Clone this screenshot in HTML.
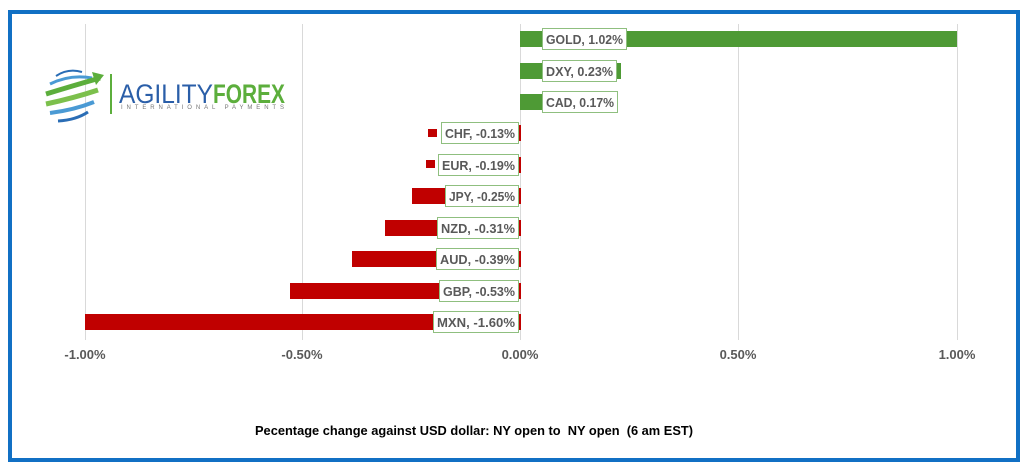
<!DOCTYPE html>
<html><head><meta charset="utf-8"><style>
body{margin:0;background:#fff;width:1024px;height:468px;overflow:hidden}
svg{display:block}
text{font-family:"Liberation Sans",Arial,sans-serif}
</style></head><body>
<svg width="1024" height="468" viewBox="0 0 1024 468">
<rect x="10" y="12" width="1008" height="448" fill="#fff" stroke="#1170c4" stroke-width="4"/>
<g stroke="#d9d9d9" stroke-width="1">
<line x1="85.5" y1="24" x2="85.5" y2="340"/>
<line x1="302.5" y1="24" x2="302.5" y2="340"/>
<line x1="520.5" y1="24" x2="520.5" y2="340"/>
<line x1="738.5" y1="24" x2="738.5" y2="340"/>
<line x1="957.5" y1="24" x2="957.5" y2="340"/>
</g>
<!-- logo -->
<g>
<path d="M56 76 Q68 68 82 72" stroke="#2a6db5" stroke-width="2" fill="none"/>
<path d="M50 84 Q70 74 92 78" stroke="#4a9ad4" stroke-width="3" fill="none"/>
<path d="M46 94 Q72 86 100 78" stroke="#5cae3c" stroke-width="5" fill="none"/>
<path d="M46 104 Q74 98 98 90" stroke="#7cc04c" stroke-width="5" fill="none"/>
<path d="M50 113 Q74 110 94 102" stroke="#4a9ad4" stroke-width="4" fill="none"/>
<path d="M58 121 Q76 120 88 112" stroke="#2a6db5" stroke-width="3" fill="none"/>
<path d="M92 72 L104 75 L96 85 Z" fill="#5cae3c"/>
<line x1="111" y1="74" x2="111" y2="114" stroke="#5cae3c" stroke-width="2"/>
<text x="119" y="103" font-size="27" fill="#2a5ea8" textLength="94" lengthAdjust="spacingAndGlyphs">AGILITY</text>
<text x="213" y="103" font-size="27" font-weight="bold" fill="#5cae3c" textLength="72" lengthAdjust="spacingAndGlyphs">FOREX</text>
<text x="121" y="109" font-size="6" fill="#777" textLength="163" lengthAdjust="spacing">INTERNATIONAL PAYMENTS</text>
</g>
<!-- bars -->
<g fill="#4e9a35">
<rect x="520" y="31" width="437" height="16"/>
<rect x="520" y="63" width="101" height="16"/>
<rect x="520" y="94" width="74" height="16"/>
</g>
<g fill="#c00000">
<rect x="428" y="129" width="9" height="8"/>
<rect x="515" y="125" width="6" height="16"/>
<rect x="426" y="160" width="9" height="8"/>
<rect x="515" y="157" width="6" height="16"/>
<rect x="412" y="188" width="109" height="16"/>
<rect x="385" y="220" width="136" height="16"/>
<rect x="352" y="251" width="169" height="16"/>
<rect x="290" y="283" width="231" height="16"/>
<rect x="85" y="314" width="436" height="16"/>
</g>
<!-- labels -->
<g stroke="#8fbf7f" stroke-width="1" fill="#fff">
<rect x="542.5" y="28.5" width="84" height="21"/>
<rect x="542.5" y="60.5" width="74" height="21"/>
<rect x="542.5" y="91.5" width="75" height="21"/>
<rect x="441.5" y="122.5" width="77" height="21"/>
<rect x="438.5" y="154.5" width="80" height="21"/>
<rect x="445.5" y="185.5" width="73" height="21"/>
<rect x="437.5" y="217.5" width="81" height="21"/>
<rect x="436.5" y="248.5" width="82" height="21"/>
<rect x="439.5" y="280.5" width="79" height="21"/>
<rect x="433.5" y="311.5" width="85" height="21"/>
</g>
<g font-size="13" font-weight="bold" fill="#595959">
<text x="546" y="44" textLength="77" lengthAdjust="spacingAndGlyphs">GOLD, 1.02%</text>
<text x="546" y="76" textLength="67" lengthAdjust="spacingAndGlyphs">DXY, 0.23%</text>
<text x="546" y="107" textLength="68" lengthAdjust="spacingAndGlyphs">CAD, 0.17%</text>
<text x="445" y="138" textLength="70" lengthAdjust="spacingAndGlyphs">CHF, -0.13%</text>
<text x="442" y="170" textLength="73" lengthAdjust="spacingAndGlyphs">EUR, -0.19%</text>
<text x="449" y="201" textLength="66" lengthAdjust="spacingAndGlyphs">JPY, -0.25%</text>
<text x="441" y="233" textLength="74" lengthAdjust="spacingAndGlyphs">NZD, -0.31%</text>
<text x="440" y="264" textLength="75" lengthAdjust="spacingAndGlyphs">AUD, -0.39%</text>
<text x="443" y="296" textLength="72" lengthAdjust="spacingAndGlyphs">GBP, -0.53%</text>
<text x="437" y="327" textLength="78" lengthAdjust="spacingAndGlyphs">MXN, -1.60%</text>
</g>
<g font-size="13" font-weight="bold" fill="#595959" text-anchor="middle">
<text x="85" y="359">-1.00%</text>
<text x="302" y="359">-0.50%</text>
<text x="520" y="359">0.00%</text>
<text x="738" y="359">0.50%</text>
<text x="957" y="359">1.00%</text>
</g>
<text x="255" y="435" font-size="13" font-weight="bold" fill="#000" textLength="438" lengthAdjust="spacingAndGlyphs" xml:space="preserve">Pecentage change against USD dollar: NY open to  NY open  (6 am EST)</text>
</svg>
</body></html>
